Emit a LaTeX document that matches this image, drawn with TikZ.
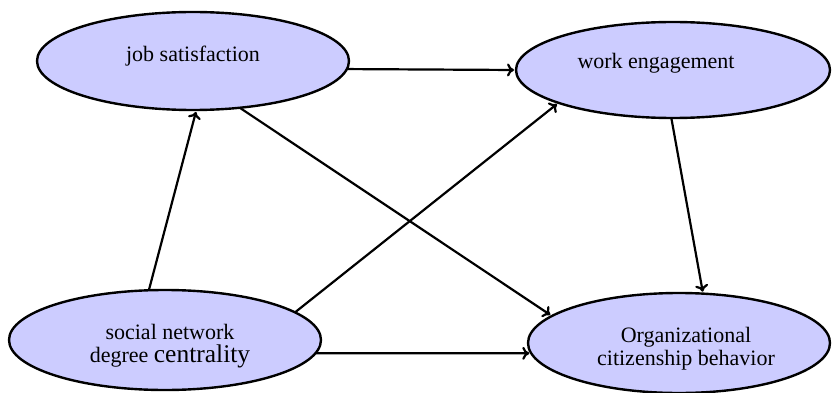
\documentclass[tikz,border=0pt]{standalone}
\usepackage{fontspec}
\setmainfont{Liberation Serif}
\newfontfamily\ovalfont{Liberation Serif}
\usetikzlibrary{shapes.geometric,arrows.meta}
\definecolor{ovalfill}{RGB}{204,204,255}
\begin{document}
\begin{tikzpicture}[x=1pt, y=-1pt,
        oval/.style={ellipse, draw, line width=2.4pt, fill=ovalfill, inner sep=0pt, outer sep=0pt},
        lbl/.style={align=center, inner sep=0pt, font=\ovalfont\fontsize{22}{23}\selectfont},
        link/.style={line width=2.2pt, -{To[length=7pt,width=13pt]}, shorten >=2pt}]
        \useasboundingbox (0,0) rectangle (832,393);
        \node[oval, minimum width=312, minimum height=98] (js) at (193,61) {};
        \node[oval, minimum width=314, minimum height=96] (we) at (673,70) {};
        \node[oval, minimum width=312, minimum height=100] (sn) at (165,340) {};
        \node[oval, minimum width=302, minimum height=100] (ocb) at (679,343) {};
        \node[lbl] (jstext) at (193,56) {job satisfaction};
        \node[lbl] (wetext) at (656,63) {work engagement};
        \node[lbl] (sntext) at (170,346) {social network\\degree {\fontsize{25.5}{23}\selectfont centrality}};
        \node[lbl] (ocbtext) at (686,349) {Organizational\\citizenship behavior};
        \draw[link] (js.-3.3) -- (we.west);
        \draw[link] (sn.108.8) -- (js.-86.6);
        \draw[link] (js.-45.6) -- (ocb.168.2);
        \draw[link] (sn.12.8) -- (we.196.6);
        \draw[link] (we.-92.4) -- (ocb.64);
        \draw[link] (sn.-5) -- (ocb.184);
\end{tikzpicture}
\end{document}
